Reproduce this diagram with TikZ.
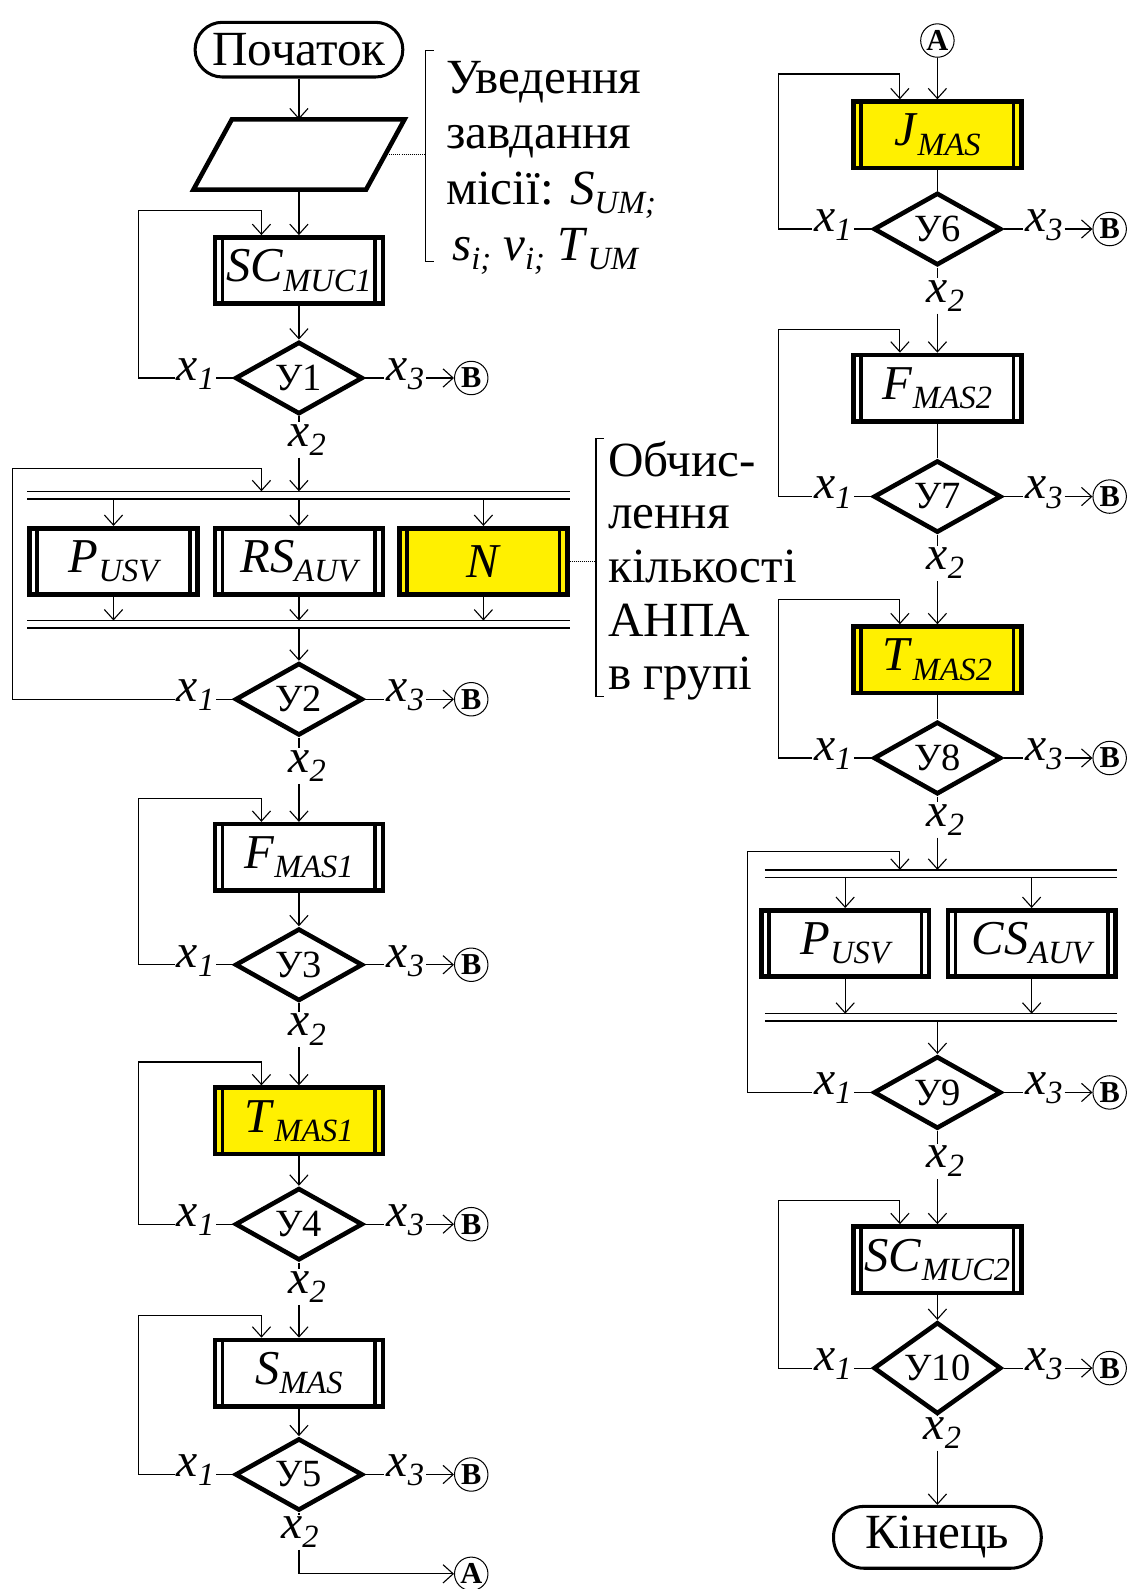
\documentclass[tikz,border=0pt]{standalone}
\usepackage{fontspec}
\setmainfont{Liberation Serif}
\usetikzlibrary{shapes.geometric,arrows.meta,calc}
\definecolor{yel}{RGB}{255,240,0}
\newcommand{\sbs}[1]{\raisebox{-9pt}{\fontsize{32}{32}\selectfont\itshape #1}}
\newcommand{\xl}[1]{\textit{x}\sbs{#1}}
\begin{document}
\begin{tikzpicture}[x=1pt,y=-1pt,
  every node/.style={inner sep=0pt},
  conn/.style={line width=1.1pt},
  arr/.style={conn,-{Straight Barb[length=10pt,width=18pt]}},
  proc/.style={rectangle, draw, line width=4.5pt, fill=white, minimum width=165.5pt, minimum height=65.5pt,
    font=\fontsize{48}{48}\selectfont,
    path picture={
      \draw[line width=3.5pt] ([xshift=7.5pt]path picture bounding box.south west) -- ([xshift=7.5pt]path picture bounding box.north west);
      \draw[line width=3.5pt] ([xshift=-7.5pt]path picture bounding box.south east) -- ([xshift=-7.5pt]path picture bounding box.north east);}},
  yproc/.style={proc, fill=yel},
  dec/.style={diamond, draw, line width=4.5pt, minimum width=126pt, minimum height=66pt, fill=white, font=\fontsize{38}{38}\selectfont},
  term/.style={rectangle, rounded corners=27pt, draw, line width=3pt, minimum width=205pt, minimum height=54pt, font=\fontsize{48.5}{48.5}\selectfont},
  lab/.style={font=\fontsize{47}{47}\selectfont, inner sep=2pt, anchor=mid},
  con/.style={circle, draw, line width=1pt, minimum size=33pt, font=\fontsize{30}{30}\selectfont\bfseries},
  bar/.style={minimum height=7pt},
  barline/.style={line width=1.4pt},
  note/.style={font=\fontsize{48.5}{48.5}\selectfont, anchor=base west},
  brk/.style={line width=1.3pt},
  dots/.style={line width=1pt, densely dotted}
]
\useasboundingbox (0,0) rectangle (1121,1568);

% ---------------- left column ----------------
\node[term] (start) at (295,49) {Початок};
\node[minimum width=170pt, minimum height=69pt] (io) at (295,152.5) {};
\draw[line width=4.5pt] ([xshift=-19pt]io.south west) -- ([xshift=-19pt]io.south east) -- ([xshift=19pt]io.north east) -- ([xshift=19pt]io.north west) -- cycle;
\node[proc] (sc1) at (295,267) {\textit{SC}\sbs{MUC1}};

% annotation 1
\coordinate (br1) at (420,152.5);
\draw[brk] (428,50) -- (420,50) -- (420,258) -- (428,258);
\draw[dots] (io.east) -- (br1);
\node[note] (a1l1) at (440,92) {Уведення};
\node[note] (a1l2) at (440,147) {завдання};
\node[note] (a1l3) at (440,202) {місії: \textit{S}\sbs{UM;}};
\node[note] (a1l4) at (446,257) {\textit{s}\sbs{i;} \textit{v}\sbs{i;} \textit{T}\sbs{UM}};

\draw[arr] (start.south) -- (io.north);
\draw[arr] (io.south) -- (sc1.north);

\node[dec] (d1) at (295,373) {У1};
\node[lab] (d1x1) at (193,373) {\xl{1}};
\node[lab] (d1x3) at (400,373) {\xl{3}};
\node[con] (d1b) at (465,373) {B};
\node[lab] (d1x2) at (303,438) {\xl{2}};
\draw[arr] (sc1.south) -- (d1.north);
\draw[conn] (d1.west) -- (d1.west -| d1x1.east);
\draw[arr] (d1x1.west |- d1.west) -| (137,208) -| ([xshift=-37pt]sc1.north);
\draw[conn] (d1.east) -- (d1.east -| d1x3.west);
\draw[arr] (d1x3.east |- d1.east) -- (d1b.west);
\draw[conn] (d1.south) -- (d1x2.north -| d1.south);

% parallel block 1
\node[bar, minimum width=535pt] (bar1) at (294.5,488.5) {};
\draw[barline] (bar1.north west) -- (bar1.north east) (bar1.south west) -- (bar1.south east);
\node[proc] (p1) at (112,554) {\textit{P}\sbs{USV}};
\node[proc] (rs) at (295,554) {\textit{RS}\sbs{AUV}};
\node[yproc] (nn) at (477,554) {\textit{N}};
\node[bar, minimum width=535pt] (bar2) at (294.5,616) {};
\draw[barline] (bar2.north west) -- (bar2.north east) (bar2.south west) -- (bar2.south east);
\draw[arr] (d1x2.south -| d1.south) -- (bar1.north -| d1.south);
\foreach \b in {p1,rs,nn}{
  \draw[arr] (bar1.south -| \b.north) -- (\b.north);
  \draw[arr] (\b.south) -- (\b.south |- bar2.north);
}

% annotation 2
\coordinate (br2) at (588,554);
\draw[brk] (596,433) -- (588,433) -- (588,687) -- (596,687);
\draw[dots] (nn.east) -- (br2);
\node[note] (a2l1) at (600,470) {Обчис-};
\node[note] (a2l2) at (600,522) {лення};
\node[note] (a2l3) at (600,575) {кількості};
\node[note] (a2l4) at (600,628) {АНПА};
\node[note] (a2l5) at (600,680) {в групі};

\node[dec] (d2) at (295,690) {У2};
\node[lab] (d2x1) at (193,690) {\xl{1}};
\node[lab] (d2x3) at (400,690) {\xl{3}};
\node[con] (d2b) at (465,690) {B};
\node[lab] (d2x2) at (303,760) {\xl{2}};
\draw[arr] (bar2.south -| d2.north) -- (d2.north);
\draw[conn] (d2.west) -- (d2.west -| d2x1.east);
\draw[arr] (d2x1.west |- d2.west) -| (12,462) -| ($(bar1.north -| d2.north)+(-37pt,0)$);
\draw[conn] (d2.east) -- (d2.east -| d2x3.west);
\draw[arr] (d2x3.east |- d2.east) -- (d2b.west);
\draw[conn] (d2.south) -- (d2x2.north -| d2.south);

% F_MAS1
\node[proc] (f1) at (295,846) {\textit{F}\sbs{MAS1}};
\node[dec] (d3) at (295,952) {У3};
\node[lab] (d3x1) at (193,952) {\xl{1}};
\node[lab] (d3x3) at (400,952) {\xl{3}};
\node[con] (d3b) at (465,952) {B};
\node[lab] (d3x2) at (303,1020) {\xl{2}};
\draw[arr] (d2x2.south -| d2.south) -- (f1.north);
\draw[arr] (f1.south) -- (d3.north);
\draw[conn] (d3.west) -- (d3.west -| d3x1.east);
\draw[arr] (d3x1.west |- d3.west) -| (137,788) -| ([xshift=-37pt]f1.north);
\draw[conn] (d3.east) -- (d3.east -| d3x3.west);
\draw[arr] (d3x3.east |- d3.east) -- (d3b.west);
\draw[conn] (d3.south) -- (d3x2.north -| d3.south);

% T_MAS1
\node[yproc] (t1) at (295,1106) {\textit{T}\sbs{MAS1}};
\node[dec] (d4) at (295,1208) {У4};
\node[lab] (d4x1) at (193,1208) {\xl{1}};
\node[lab] (d4x3) at (400,1208) {\xl{3}};
\node[con] (d4b) at (465,1208) {B};
\node[lab] (d4x2) at (303,1274) {\xl{2}};
\draw[arr] (d3x2.south -| d3.south) -- (t1.north);
\draw[arr] (t1.south) -- (d4.north);
\draw[conn] (d4.west) -- (d4.west -| d4x1.east);
\draw[arr] (d4x1.west |- d4.west) -| (137,1048) -| ([xshift=-37pt]t1.north);
\draw[conn] (d4.east) -- (d4.east -| d4x3.west);
\draw[arr] (d4x3.east |- d4.east) -- (d4b.west);
\draw[conn] (d4.south) -- (d4x2.north -| d4.south);

% S_MAS
\node[proc] (sm) at (295,1355) {\textit{S}\sbs{MAS}};
\node[dec] (d5) at (295,1455) {У5};
\node[lab] (d5x1) at (193,1455) {\xl{1}};
\node[lab] (d5x3) at (400,1455) {\xl{3}};
\node[con] (d5b) at (465,1455) {B};
\node[lab] (d5x2) at (296,1516) {\xl{2}};
\node[con] (aL) at (465,1553) {A};
\draw[arr] (d4x2.south -| d4.south) -- (sm.north);
\draw[arr] (sm.south) -- (d5.north);
\draw[conn] (d5.west) -- (d5.west -| d5x1.east);
\draw[arr] (d5x1.west |- d5.west) -| (137,1298) -| ([xshift=-37pt]sm.north);
\draw[conn] (d5.east) -- (d5.east -| d5x3.west);
\draw[arr] (d5x3.east |- d5.east) -- (d5b.west);
\draw[conn] (d5.south) -- (d5x2.north -| d5.south);
\draw[arr] (d5x2.south -| d5.south) |- (aL.west);

% ---------------- right column ----------------
\node[con] (aR) at (925,40) {A};
\node[yproc] (jm) at (925,133) {\textit{J}\sbs{MAS}};
\node[dec] (d6) at (925,226) {У6};
\node[lab] (d6x1) at (822,226) {\xl{1}};
\node[lab] (d6x3) at (1030,226) {\xl{3}};
\node[con] (d6b) at (1095,226) {B};
\node[lab] (d6x2) at (933,296) {\xl{2}};
\draw[arr] (aR.south) -- (jm.north);
\draw[conn] (jm.south) -- (d6.north);
\draw[conn] (d6.west) -- (d6.west -| d6x1.east);
\draw[arr] (d6x1.west |- d6.west) -| (768,73) -| ([xshift=-37pt]jm.north);
\draw[conn] (d6.east) -- (d6.east -| d6x3.west);
\draw[arr] (d6x3.east |- d6.east) -- (d6b.west);
\draw[conn] (d6.south) -- (d6x2.north -| d6.south);

\node[proc] (f2) at (925,383) {\textit{F}\sbs{MAS2}};
\node[dec] (d7) at (925,490) {У7};
\node[lab] (d7x1) at (822,490) {\xl{1}};
\node[lab] (d7x3) at (1030,490) {\xl{3}};
\node[con] (d7b) at (1095,490) {B};
\node[lab] (d7x2) at (933,560) {\xl{2}};
\draw[arr] (d6x2.south -| d6.south) -- (f2.north);
\draw[conn] (f2.south) -- (d7.north);
\draw[conn] (d7.west) -- (d7.west -| d7x1.east);
\draw[arr] (d7x1.west |- d7.west) -| (768,325) -| ([xshift=-37pt]f2.north);
\draw[conn] (d7.east) -- (d7.east -| d7x3.west);
\draw[arr] (d7x3.east |- d7.east) -- (d7b.west);
\draw[conn] (d7.south) -- (d7x2.north -| d7.south);

\node[yproc] (t2) at (925,651) {\textit{T}\sbs{MAS2}};
\node[dec] (d8) at (925,748) {У8};
\node[lab] (d8x1) at (822,748) {\xl{1}};
\node[lab] (d8x3) at (1030,748) {\xl{3}};
\node[con] (d8b) at (1095,748) {B};
\node[lab] (d8x2) at (933,813) {\xl{2}};
\draw[arr] (d7x2.south -| d7.south) -- (t2.north);
\draw[conn] (t2.south) -- (d8.north);
\draw[conn] (d8.west) -- (d8.west -| d8x1.east);
\draw[arr] (d8x1.west |- d8.west) -| (768,592) -| ([xshift=-37pt]t2.north);
\draw[conn] (d8.east) -- (d8.east -| d8x3.west);
\draw[arr] (d8x3.east |- d8.east) -- (d8b.west);
\draw[conn] (d8.south) -- (d8x2.north -| d8.south);

% parallel block 2
\node[bar, minimum width=347pt] (bar3) at (928.5,862) {};
\draw[barline] (bar3.north west) -- (bar3.north east) (bar3.south west) -- (bar3.south east);
\node[proc] (pu2) at (834,931) {\textit{P}\sbs{USV}};
\node[proc] (cs) at (1018,931) {\textit{CS}\sbs{AUV}};
\node[bar, minimum width=347pt] (bar4) at (928.5,1004) {};
\draw[barline] (bar4.north west) -- (bar4.north east) (bar4.south west) -- (bar4.south east);
\draw[arr] (d8x2.south -| d8.south) -- (bar3.north -| d8.south);
\foreach \b in {pu2,cs}{
  \draw[arr] (bar3.south -| \b.north) -- (\b.north);
  \draw[arr] (\b.south) -- (\b.south |- bar4.north);
}
\node[dec] (d9) at (925,1078) {У9};
\node[lab] (d9x1) at (822,1078) {\xl{1}};
\node[lab] (d9x3) at (1030,1078) {\xl{3}};
\node[con] (d9b) at (1095,1078) {B};
\node[lab] (d9x2) at (933,1150) {\xl{2}};
\draw[arr] (bar4.south -| d9.north) -- (d9.north);
\draw[conn] (d9.west) -- (d9.west -| d9x1.east);
\draw[arr] (d9x1.west |- d9.west) -| (738,840) -| ($(bar3.north -| d9.north)+(-37pt,0)$);
\draw[conn] (d9.east) -- (d9.east -| d9x3.west);
\draw[arr] (d9x3.east |- d9.east) -- (d9b.west);
\draw[conn] (d9.south) -- (d9x2.north -| d9.south);

\node[proc] (sc2) at (925,1243) {\textit{SC}\sbs{MUC2}};
\node[dec] (d10) at (925,1350) {У10};
\node[lab] (d10x1) at (822,1350) {\xl{1}};
\node[lab] (d10x3) at (1030,1350) {\xl{3}};
\node[con] (d10b) at (1095,1350) {B};
\node[lab] (d10x2) at (930,1418) {\xl{2}};
\node[term, rounded corners=30pt, minimum height=61pt] (fin) at (925,1517) {Кінець};
\draw[arr] (d9x2.south -| d9.south) -- (sc2.north);
\draw[arr] (sc2.south) -- (d10.north);
\draw[conn] (d10.west) -- (d10.west -| d10x1.east);
\draw[arr] (d10x1.west |- d10.west) -| (768,1185) -| ([xshift=-37pt]sc2.north);
\draw[conn] (d10.east) -- (d10.east -| d10x3.west);
\draw[arr] (d10x3.east |- d10.east) -- (d10b.west);
\draw[conn] (d10.south) -- (d10x2.north -| d10.south);
\draw[arr] (d10x2.south -| d10.south) -- (fin.north);
\end{tikzpicture}
\end{document}
